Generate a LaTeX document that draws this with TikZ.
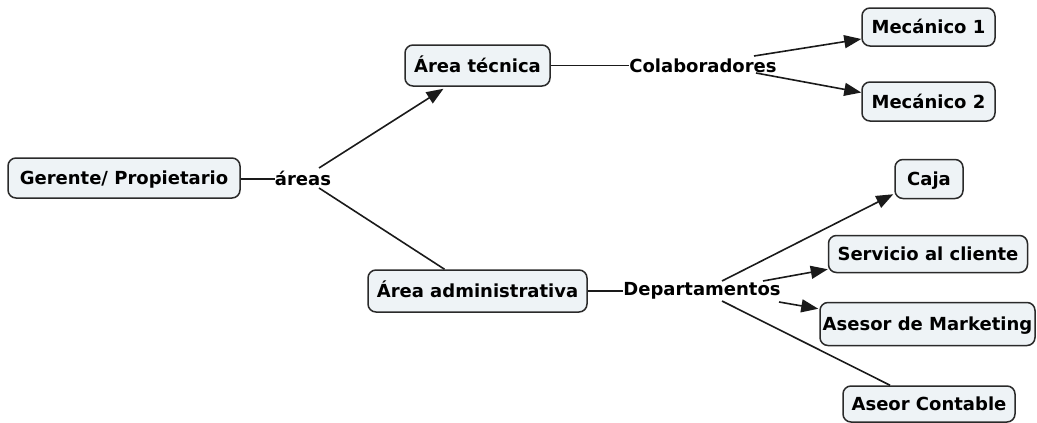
\documentclass[tikz,border=0pt]{standalone}
\usepackage{fontspec}
\setmainfont{DejaVu Sans}
\usetikzlibrary{arrows.meta,calc}
\definecolor{boxfill}{HTML}{EEF3F6}
\definecolor{boxline}{HTML}{2A2A2A}
\definecolor{linec}{HTML}{1A1A1A}
\begin{document}
\begin{tikzpicture}[x=1pt,y=-1pt,
  font=\fontsize{18}{22}\selectfont\bfseries,
  every node/.style={text height=13pt, text depth=0pt},
  box/.style={draw=boxline, fill=boxfill, rounded corners=8pt, line width=1.5pt, inner sep=0pt},
  lbl/.style={inner sep=0pt},
  link/.style={line width=1.6pt, draw=linec},
  arr/.style={link, -{Triangle[length=17pt,width=13pt]}}]
\useasboundingbox (0,0) rectangle (1037,423);
% nodes
\node[box, minimum width=232pt, minimum height=40pt] (ger) at (124,178) {Gerente/ Propietario};
\node[lbl] (areas) at (303,179) {áreas};
\node[box, minimum width=145pt, minimum height=41pt] (tec) at (477.5,65.5) {Área técnica};
\node[lbl] (colab) at (703,66) {Colaboradores};
\node[box, minimum width=133pt, minimum height=38pt] (mec1) at (928.5,27) {Mecánico 1};
\node[box, minimum width=133pt, minimum height=39pt] (mec2) at (928.5,101.5) {Mecánico 2};
\node[box, minimum width=219pt, minimum height=42pt] (adm) at (477.5,291) {Área administrativa};
\node[lbl] (dep) at (702,289) {Departamentos};
\node[box, minimum width=68pt, minimum height=39pt] (caja) at (929,179) {Caja};
\node[box, minimum width=199pt, minimum height=37pt] (serv) at (928,254) {Servicio al cliente};
\node[box, minimum width=215pt, minimum height=43pt] (mkt) at (927.5,324) {Asesor de Marketing};
\node[box, minimum width=172pt, minimum height=36pt] (cont) at (929,404) {Aseor Contable};
% connectors
\draw[link] (areas.west -| ger.east) -- (areas.west);
\draw[arr] ($(areas.center)+(16,-11)$) -- ($(tec.south)+(-34,2)$);
\draw[link] ($(areas.center)+(16,9)$) -- ($(adm.north)+(-33,0)$);
\draw[link] (tec.east) -- (tec.east -| colab.west);
\draw[arr] ($(colab.center)+(51,-10)$) -- ($(mec1.west)+(0,12)$);
\draw[arr] ($(colab.center)+(53,7)$) -- ($(mec2.west)+(0,-9)$);
\draw[link] (adm.east) -- (adm.east -| dep.west);
\draw[arr] ($(dep.center)+(20,-8)$) -- ($(caja.south west)+(-1,-5)$);
\draw[arr] ($(dep.center)+(61,-8)$) -- ($(serv.south west)+(0,-4)$);
\draw[arr] ($(dep.center)+(77,13)$) -- ($(mkt.north west)+(-1,7)$);
\draw[link] ($(dep.center)+(20,12)$) -- ($(cont.north)+(-39,0)$);
\end{tikzpicture}
\end{document}
